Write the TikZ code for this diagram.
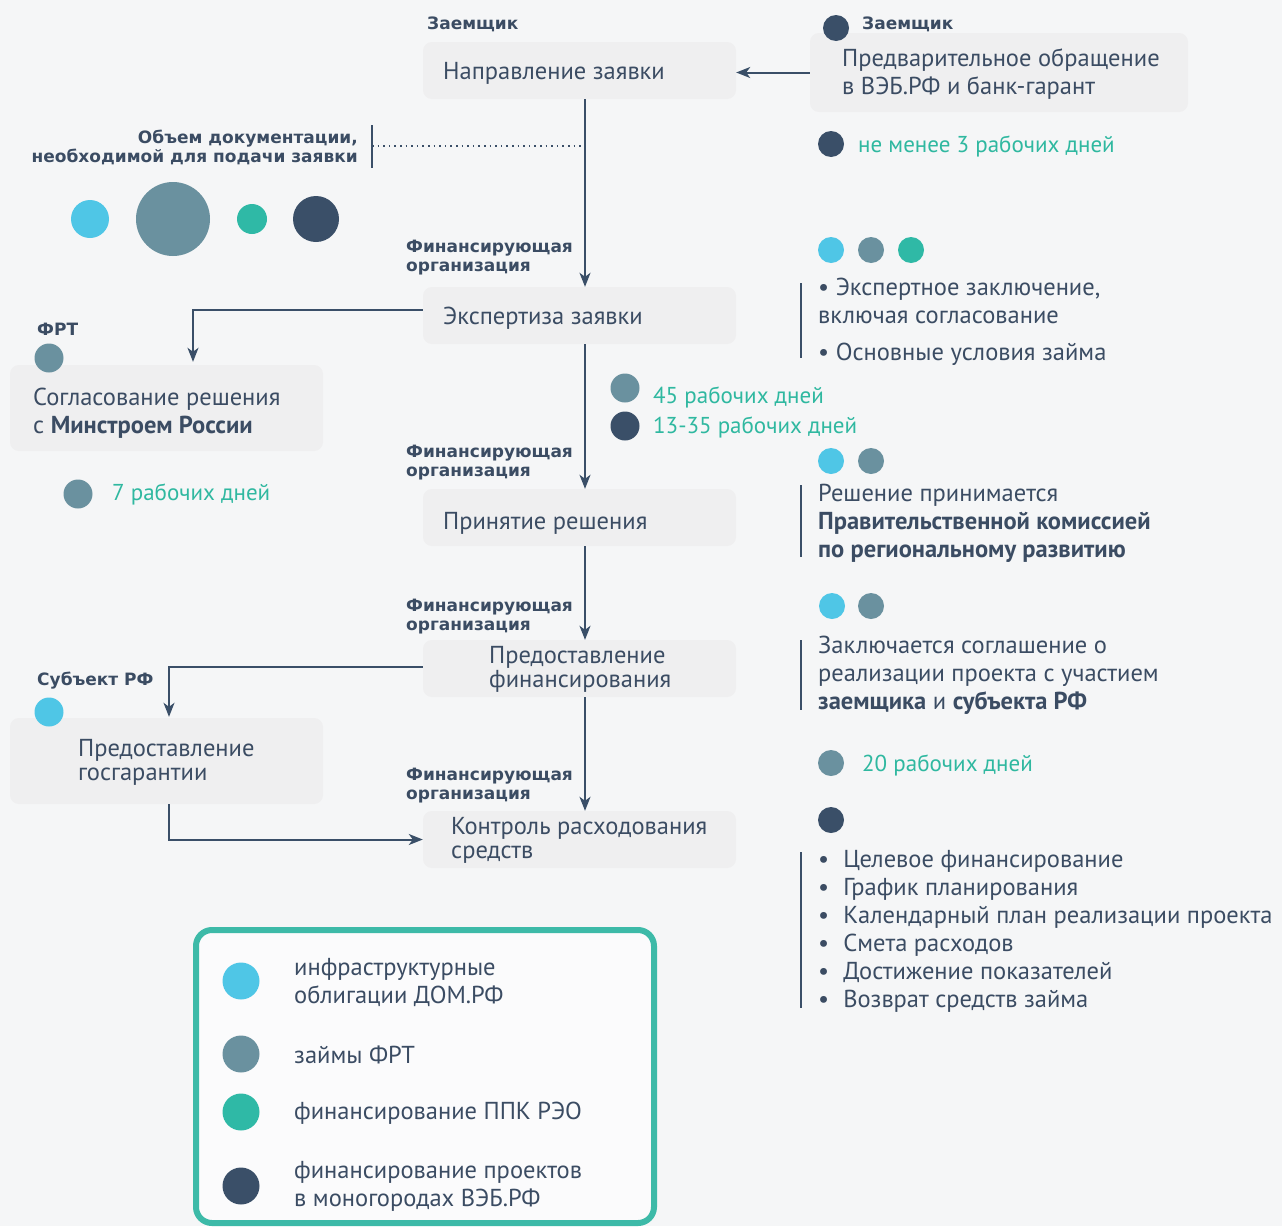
\documentclass[tikz,border=0pt]{standalone}
\usepackage{fontspec}
\setmainfont{PT Sans}
\newfontfamily\lblfont{DejaVu Sans}
\usetikzlibrary{arrows.meta}
\definecolor{cLB}{HTML}{4FC6E6}
\definecolor{cGR}{HTML}{6A919F}
\definecolor{cTE}{HTML}{2FB9A6}
\definecolor{cDK}{HTML}{3A4F68}
\definecolor{cTX}{HTML}{3B4C63}
\definecolor{cTT}{HTML}{2FB8A0}
\definecolor{cBX}{HTML}{EFEFF0}
\definecolor{cBG}{HTML}{F5F6F7}
\definecolor{cLG}{HTML}{3DBAA8}
\begin{document}
\begin{tikzpicture}[x=1pt,y=-1pt,
  box/.style={fill=cBX, rounded corners=9pt, draw=none, inner sep=0pt},
  txt/.style={anchor=west, inner sep=0pt, yshift=-2pt, text=cTX, font=\fontsize{24.5}{28}\selectfont, align=left},
  tight/.style={font=\fontsize{24.5}{24}\selectfont},
  days/.style={anchor=west, inner sep=0pt, yshift=-2pt, text=cTT, font=\fontsize{23}{28}\selectfont},
  role/.style={anchor=west, inner sep=0pt, yshift=-2pt, text=cTX, font=\lblfont\bfseries\fontsize{17}{19}\selectfont, align=left},
  dot/.style={circle, inner sep=0pt, draw=none, minimum size=26pt},
  conn/.style={draw=cDK, line width=2pt, -{Stealth[length=14pt,width=11pt,inset=4pt]}},
  bar/.style={draw=cDK, line width=2.5pt},
]
\fill[cBG] (0,0) rectangle (1282,1226);
\useasboundingbox (0,0) rectangle (1282,1226);

\coordinate (spine) at (585,0);

% main column boxes
\node[box, minimum width=313pt, minimum height=57pt] (b1) at (579.5,70.5) {};
\node[txt] (t1) at (443,71) {Направление заявки};
\node[box, minimum width=378pt, minimum height=79pt] (b0) at (999,72.5) {};
\node[txt] (t0) at (842,72) {Предварительное обращение\\в ВЭБ.РФ и банк-гарант};
\node[box, minimum width=313pt, minimum height=57pt] (b2) at (579.5,315.5) {};
\node[txt] (t2) at (443,316) {Экспертиза заявки};
\node[box, minimum width=313pt, minimum height=86pt] (b3) at (166.5,408) {};
\node[txt] (t3) at (33,411) {Согласование решения\\с {\bfseries Минстроем России}};
\node[box, minimum width=313pt, minimum height=57pt] (b4) at (579.5,517.5) {};
\node[txt] (t4) at (443,521) {Принятие решения};
\node[box, minimum width=313pt, minimum height=57pt] (b5) at (579.5,668.5) {};
\node[txt, tight] (t5) at (489,667) {Предоставление\\финансирования};
\node[box, minimum width=313pt, minimum height=86pt] (b6) at (166.5,761) {};
\node[txt, tight] (t6) at (78,760) {Предоставление\\госгарантии};
\node[box, minimum width=313pt, minimum height=57pt] (b7) at (579.5,839.5) {};
\node[txt, tight] (t7) at (451,838) {Контроль расходования\\средств};

% role labels
\node[role] (r1) at (427,22) {Заемщик};
\node[role] (r0) at (862,22) {Заемщик};
\node[role] (r2) at (406,256) {Финансирующая\\организация};
\node[role] (r4) at (406,461) {Финансирующая\\организация};
\node[role] (r5) at (406,615) {Финансирующая\\организация};
\node[role] (r7) at (406,784) {Финансирующая\\организация};
\node[role] (r3) at (37,327) {ФРТ};
\node[role] (r6) at (37,679) {Субъект РФ};
\node[role, anchor=east, align=right] (rdoc) at (358,145) {Объем документации,\\необходимой для подачи заявки};

% connectors
\draw[conn] (b0.west) -- (b1.east |- b0.west);
\draw[conn] (b1.south -| spine) -- (b2.north -| spine);
\draw[conn] (b2.south -| spine) -- (b4.north -| spine);
\draw[conn] (b4.south -| spine) -- (b5.north -| spine);
\draw[conn] (b5.south -| spine) -- (b7.north -| spine);
\draw[conn] ([yshift=6pt]b2.west) -| ([xshift=26.5pt,yshift=3pt]b3.north);
\draw[conn] ([yshift=1.5pt]b5.west) -| ([xshift=2.5pt,yshift=1pt]b6.north);
\draw[conn] ([xshift=2.5pt]b6.south) |- (b7.west);

% documentation dotted marker
\coordinate (docA) at (372,125);
\coordinate (docB) at (372,168);
\coordinate (docM) at (372,146);
\draw[bar] (docA) -- (docB);
\draw[cDK, line width=1.6pt, dash pattern=on 1.6pt off 4pt] (docM) -- (docM -| spine);

% documentation circles
\node[dot, fill=cLB, minimum size=38pt] (c1) at (90,219) {};
\node[dot, fill=cGR, minimum size=74pt] (c2) at (173,219) {};
\node[dot, fill=cTE, minimum size=30pt] (c3) at (252,219) {};
\node[dot, fill=cDK, minimum size=46pt] (c4) at (316,219) {};

% left-side small dots and days
\node[dot, fill=cGR, minimum size=29pt] (dfrt) at (49,358) {};
\node[dot, fill=cLB, minimum size=29pt] (dsub) at (49,712) {};
\node[dot, fill=cGR, minimum size=29pt] (d7) at (78,494) {};
\node[days] (day7) at (112,492) {7 рабочих дней};

% middle days
\node[dot, fill=cGR, minimum size=29pt] (d45) at (625,388) {};
\node[dot, fill=cDK, minimum size=29pt] (d13) at (625,426) {};
\node[days] (day45) at (653,395) {45 рабочих дней};
\node[days] (day13) at (653,425) {13-35 рабочих дней};

% right column
\node[dot, fill=cDK, minimum size=26pt] (d0) at (836,28) {};
\node[dot, fill=cDK, minimum size=26pt] (d3) at (831,144) {};
\node[days] (day3) at (858,144) {не менее 3 рабочих дней};

\node[dot, fill=cLB] (e1) at (831,250) {};
\node[dot, fill=cGR] (e2) at (871,250) {};
\node[dot, fill=cTE] (e3) at (911,250) {};
\draw[bar] (801,283) coordinate (eA) -- (801,358) coordinate (eB);
\node[txt] (et) at (818,320) {• Экспертное заключение,\\включая согласование\\[9pt]• Основные условия займа};

\node[dot, fill=cLB] (f1) at (831,461) {};
\node[dot, fill=cGR] (f2) at (871,461) {};
\draw[bar] (801,485) coordinate (fA) -- (801,557) coordinate (fB);
\node[txt] (ft) at (818,521) {Решение принимается\\{\bfseries Правительственной комиссией}\\{\bfseries по региональному развитию}};

\node[dot, fill=cLB] (g1) at (832,606) {};
\node[dot, fill=cGR] (g2) at (871,606) {};
\draw[bar] (801,640) coordinate (gA) -- (801,710) coordinate (gB);
\node[txt] (gt) at (818,673) {Заключается соглашение о\\реализации проекта с участием\\{\bfseries заемщика} и {\bfseries субъекта РФ}};

\node[dot, fill=cGR] (h1) at (831,763) {};
\node[days] (day20) at (862,763) {20 рабочих дней};

\node[dot, fill=cDK] (k1) at (831,820) {};
\draw[bar] (801,852) coordinate (kA) -- (801,1008) coordinate (kB);
\node[txt] (kt) at (818,929) {•\hspace{14pt}Целевое финансирование\\•\hspace{14pt}График планирования\\•\hspace{14pt}Календарный план реализации проекта\\•\hspace{14pt}Смета расходов\\•\hspace{14pt}Достижение показателей\\•\hspace{14pt}Возврат средств займа};

% legend
\node[draw=cLG, line width=6pt, rounded corners=16pt, fill=white!60!cBG, minimum width=458pt, minimum height=293pt, inner sep=0pt] (leg) at (425,1076.5) {};
\node[dot, fill=cLB, minimum size=37pt] (l1) at (241,981) {};
\node[dot, fill=cGR, minimum size=37pt] (l2) at (241,1054) {};
\node[dot, fill=cTE, minimum size=37pt] (l3) at (241,1112) {};
\node[dot, fill=cDK, minimum size=37pt] (l4) at (241,1186) {};
\node[txt] (lt1) at (294,980) {инфраструктурные\\облигации ДОМ.РФ};
\node[txt] (lt2) at (294,1053) {займы ФРТ};
\node[txt] (lt3) at (294,1111) {финансирование ППК РЭО};
\node[txt] (lt4) at (294,1184) {финансирование проектов\\в моногородах ВЭБ.РФ};
\end{tikzpicture}
\end{document}
